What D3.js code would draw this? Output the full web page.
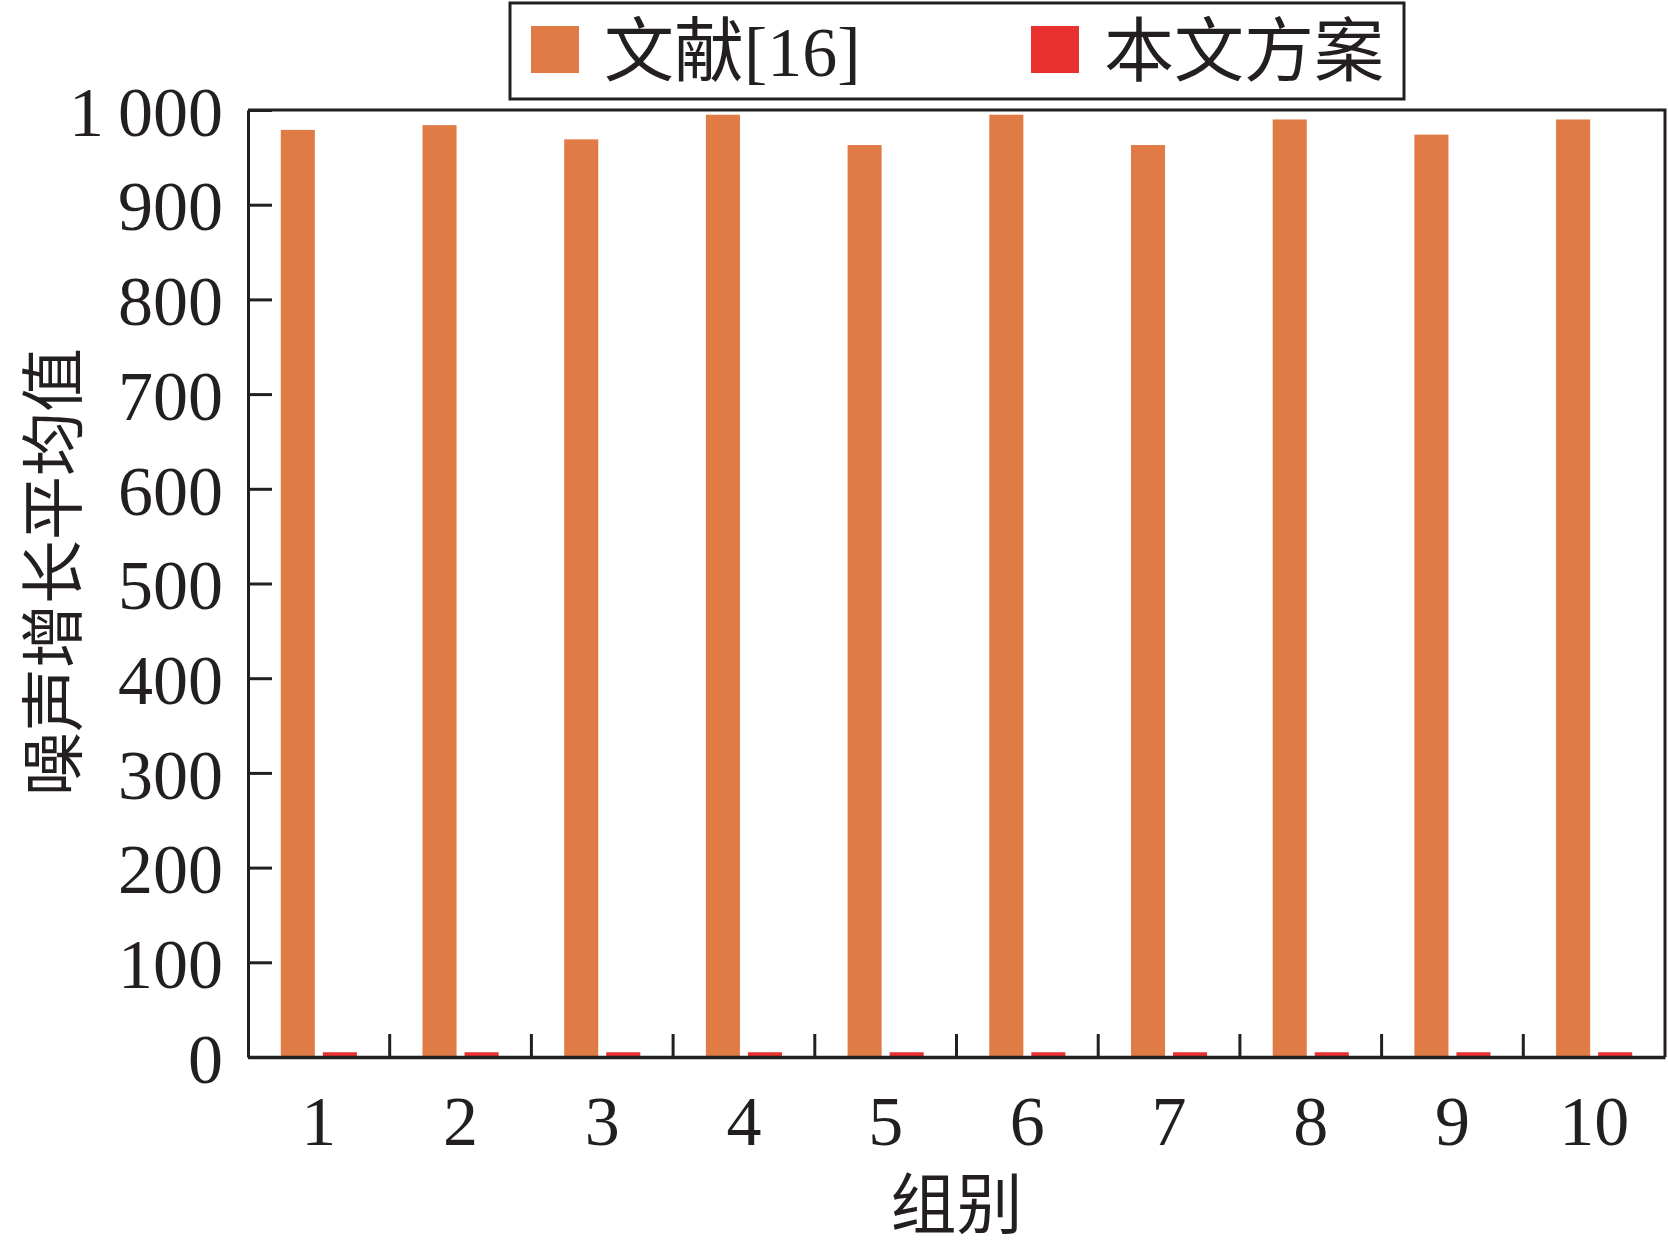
<!DOCTYPE html>
<html>
<head>
<meta charset="utf-8">
<script src="https://cdn.jsdelivr.net/npm/d3@7"></script>
<style>
  body { margin: 0; background: #fff; }
  text { font-family: "Liberation Serif", "Noto Sans CJK SC", serif; fill: #231f20; }
</style>
</head>
<body>
<div id="chart"></div>
<script>
// Data
const groups = ['1', '2', '3', '4', '5', '6', '7', '8', '9', '10'];
const seriesNames = ['文献[16]', '本文方案'];
const seriesColors = ['#e07b45', '#e8302e'];
const refValues = [979, 984, 969, 995, 963, 995, 963, 990, 974, 990];
const oursValues = [5, 5, 5, 5, 5, 5, 5, 5, 5, 5];
const yTicks = [0, 100, 200, 300, 400, 500, 600, 700, 800, 900, 1000];

const width = 1668;
const height = 1247;
const margin = { top: 110, right: 3, bottom: 190, left: 248 };
const ink = '#231f20';

const svg = d3.select('#chart').append('svg')
    .attr('width', width)
    .attr('height', height);

const x = d3.scaleBand()
    .domain(groups)
    .range([margin.left, width - margin.right]);

const x1 = d3.scaleBand()
    .domain(seriesNames)
    .range([0, x.bandwidth()])
    .paddingInner(0.19)
    .paddingOuter(0.78);

const y = d3.scaleLinear()
    .domain([0, 1000])
    .range([height - margin.bottom, margin.top]);

const rows = groups.map((g, i) => ({ group: g, values: [refValues[i], oursValues[i]] }));

// bars
const groupSel = svg.append('g').selectAll('g')
    .data(rows)
    .join('g')
    .attr('transform', d => `translate(${x(d.group)},0)`);

groupSel.selectAll('rect')
    .data(d => d.values.map((v, k) => ({ name: seriesNames[k], value: v, color: seriesColors[k] })))
    .join('rect')
    .attr('x', d => x1(d.name))
    .attr('width', x1.bandwidth())
    .attr('y', d => y(d.value))
    .attr('height', d => y(0) - y(d.value))
    .attr('fill', d => d.color);

// frame (top + right)
svg.append('path')
    .attr('d', `M${margin.left},${y(1000)}H${width - margin.right}V${y(0)}`)
    .attr('fill', 'none')
    .attr('stroke', ink)
    .attr('stroke-width', 3);

// y axis, ticks pointing inward
const yAxis = svg.append('g')
    .attr('transform', `translate(${margin.left},0)`)
    .call(d3.axisLeft(y)
        .tickValues(yTicks)
        .tickSizeInner(-24)
        .tickSizeOuter(0)
        .tickPadding(25)
        .tickFormat(d => d === 1000 ? '1\u2009000' : d));
yAxis.select('.domain').attr('stroke', ink).attr('stroke-width', 3);
yAxis.selectAll('.tick line').attr('stroke', ink).attr('stroke-width', 3);
yAxis.selectAll('.tick text')
    .attr('font-size', 70)
    .attr('dy', '0.36em')
    .style('font-family', '"Liberation Serif", serif');

// x axis labels
const xAxis = svg.append('g')
    .attr('transform', `translate(0,${y(0)})`)
    .call(d3.axisBottom(x).tickSize(0).tickPadding(38));
xAxis.select('.domain').attr('stroke', ink).attr('stroke-width', 3.5);
xAxis.selectAll('.tick text')
    .attr('font-size', 70)
    .attr('dy', '0.71em')
    .style('font-family', '"Liberation Serif", serif');

// x boundary ticks, between groups, pointing up
svg.append('g').selectAll('line')
    .data(groups.slice(1))
    .join('line')
    .attr('x1', d => x(d))
    .attr('x2', d => x(d))
    .attr('y1', y(0))
    .attr('y2', y(0) - 23)
    .attr('stroke', ink)
    .attr('stroke-width', 3);

// axis titles
svg.append('text')
    .attr('x', (margin.left + width - margin.right) / 2)
    .attr('y', 1228)
    .attr('text-anchor', 'middle')
    .attr('font-size', 66)
    .style('font-family', '"Noto Sans CJK SC", sans-serif')
    .text('组别');

svg.append('text')
    .attr('transform', `translate(76,${572}) rotate(-90)`)
    .attr('text-anchor', 'middle')
    .attr('font-size', 64)
    .style('font-family', '"Noto Sans CJK SC", sans-serif')
    .text('噪声增长平均值');

// legend
const legend = svg.append('g');
legend.append('rect')
    .attr('x', 510)
    .attr('y', 3)
    .attr('width', 894)
    .attr('height', 96)
    .attr('fill', '#fff')
    .attr('stroke', ink)
    .attr('stroke-width', 3);

const legendX = [531, 1031];
seriesNames.forEach((name, i) => {
    legend.append('rect')
        .attr('x', legendX[i])
        .attr('y', 26)
        .attr('width', 48)
        .attr('height', 47)
        .attr('fill', seriesColors[i]);
    legend.append('text')
        .attr('x', legendX[i] + 73)
        .attr('y', 76)
        .attr('font-size', 70)
        .text(name);
});
</script>
</body>
</html>
